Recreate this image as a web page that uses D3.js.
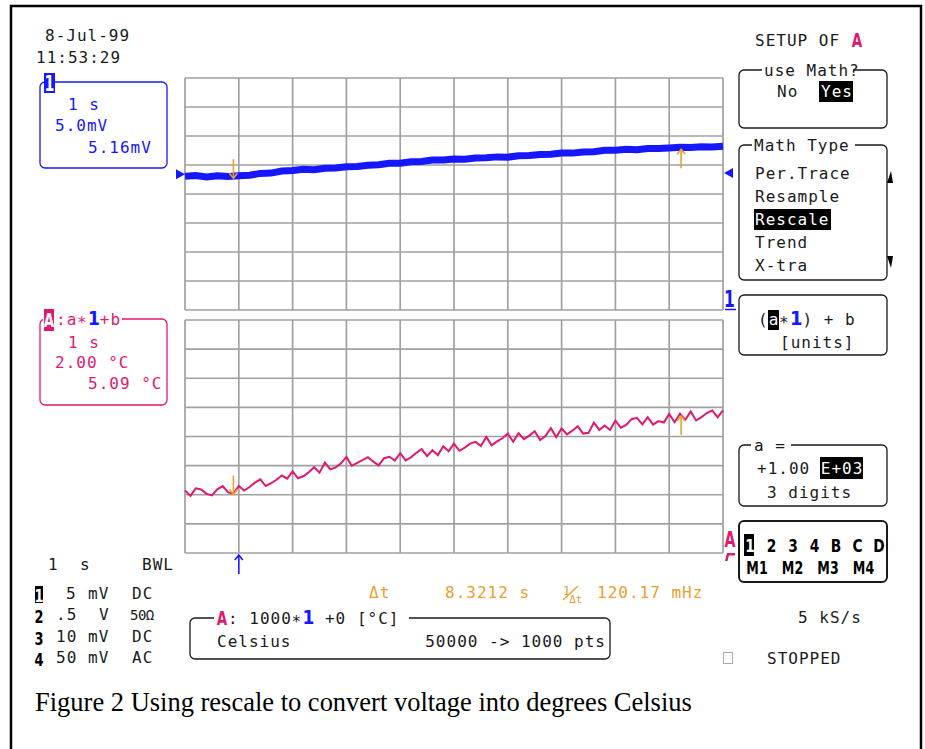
<!DOCTYPE html>
<html>
<head>
<meta charset="utf-8">
<script src="https://cdn.jsdelivr.net/npm/d3@7"></script>
<style>
body { margin: 0; background: #fff; }
svg text { font-family: "DejaVu Sans Mono", monospace; font-size: 16px; letter-spacing: 1px; }
svg .b { font-family: "Liberation Sans Narrow", "DejaVu Sans Condensed", sans-serif; font-weight: bold; letter-spacing: 0; }
svg text.cap { font-family: "Liberation Serif", "Times New Roman", serif; letter-spacing: 0; }
</style>
</head>
<body>
<svg width="925" height="749"></svg>
<script>
// ---- data ----
const timeDivs = d3.range(0, 11);          // 1 s/div, 10 divisions
const ch1Divs = d3.range(-20, 21, 5);       // 5 mV/div, 8 divisions
const mathDivs = d3.range(-8, 9, 2);        // 2 degC/div, 8 divisions

const ch1Step = 0.2; // s between samples
const ch1Values = [3.05, 3.20, 2.95, 3.15, 3.00, 3.15, 3.25, 3.55, 3.60, 3.95,
  4.05, 4.25, 4.20, 4.45, 4.50, 4.70, 4.75, 4.95, 5.05, 5.30,
  5.30, 5.55, 5.60, 5.85, 5.85, 6.05, 6.00, 6.20, 6.25, 6.40,
  6.35, 6.60, 6.65, 6.80, 6.85, 7.05, 7.05, 7.25, 7.30, 7.55,
  7.55, 7.70, 7.65, 7.85, 7.85, 7.95, 8.05, 8.00, 8.15, 8.10, 8.25];

const mathStep = 0.1;
const mathValues = [-3.70, -4.08, -3.56, -3.64, -3.94, -4.05, -3.63, -3.41, -3.84, -3.92,
  -3.40, -3.71, -3.47, -3.17, -2.94, -3.40, -3.21, -2.97, -2.68, -2.89,
  -2.40, -2.87, -2.73, -2.45, -2.11, -2.48, -1.79, -2.26, -2.12, -1.84,
  -1.40, -2.01, -1.81, -1.62, -1.42, -1.73, -1.98, -1.49, -1.39, -1.65,
  -1.15, -1.64, -1.43, -1.12, -0.86, -1.35, -0.94, -1.28, -0.67, -1.01,
  -0.50, -0.98, -0.76, -0.49, -0.37, -0.65, -0.03, -0.61, -0.34, -0.12,
  0.20, -0.36, 0.23, -0.18, 0.06, 0.36, -0.25, 0.03, 0.57, -0.04,
  0.55, 0.15, 0.40, 0.70, 0.20, 0.25, 0.95, 0.45, 0.75, 0.45,
  1.10, 0.60, 0.79, 1.19, 1.28, 0.83, 1.32, 0.82, 1.06, 0.96,
  1.55, 0.98, 1.56, 1.14, 1.72, 1.10, 1.33, 1.61, 1.79, 1.32, 1.80];

const cursorTimes = [0.9, 0.9 + 8.3212];
const triggerTime = 1;
const ch1Marker = 3.4, trigLevel = 3.6;

const mathTypes = ["Per.Trace", "Resample", "Rescale", "Trend", "X-tra"];
const chanRows = [["1", "5", "mV", "DC"], ["2", ".5", "V", "50Ω"], ["3", "10", "mV", "DC"], ["4", "50", "mV", "AC"]];
const chanKeys = ["1", "2", "3", "4", "B", "C", "D"];
const memKeys = ["M1", "M2", "M3", "M4"];
const caption = "Figure 2 Using rescale to convert voltage into degrees Celsius";

// ---- drawing ----
const svg = d3.select("svg");
const blue = "#1717ff", pink = "#e0196f", orange = "#e8a02e", gridc = "#a0a0a0", ink = "#1a1a1a";

const x = d3.scaleLinear().domain([0, 10]).range([185, 723]);
const yUp = d3.scaleLinear().domain([-20, 20]).range([310, 78]);
const yLo = d3.scaleLinear().domain([-8, 8]).range([553, 320]);

// outer frame
svg.append("rect").attr("x", 11).attr("y", 6).attr("width", 910).attr("height", 780)
  .attr("fill", "none").attr("stroke", "#000").attr("stroke-width", 2.5);

function grid(ys, yDivs) {
  const g = svg.append("g").attr("stroke", gridc).attr("stroke-width", 1.7);
  g.selectAll("line.v").data(timeDivs).enter().append("line")
    .attr("x1", d => x(d)).attr("x2", d => x(d)).attr("y1", ys.range()[1]).attr("y2", ys.range()[0]);
  g.selectAll("line.h").data(yDivs).enter().append("line")
    .attr("x1", x(0)).attr("x2", x(10)).attr("y1", d => ys(d)).attr("y2", d => ys(d));
}
grid(yUp, ch1Divs);
grid(yLo, mathDivs);

// traces
svg.append("path").datum(ch1Values)
  .attr("d", d3.line().x((d, i) => x(i * ch1Step)).y(d => yUp(d)))
  .attr("fill", "none").attr("stroke", blue).attr("stroke-width", 7);
svg.append("path").datum(mathValues)
  .attr("d", d3.line().x((d, i) => x(i * mathStep)).y(d => yLo(d)))
  .attr("fill", "none").attr("stroke", pink).attr("stroke-width", 2);

function valueAt(vals, step, t) {
  const i = t / step, i0 = Math.floor(i), f = i - i0;
  return vals[i0] * (1 - f) + vals[Math.min(i0 + 1, vals.length - 1)] * f;
}
function arrow(xp, tip, dir, color) { // dir 1 = pointing down
  const tail = tip - dir * 19;
  svg.append("line").attr("x1", xp).attr("x2", xp).attr("y1", tail).attr("y2", tip)
    .attr("stroke", color).attr("stroke-width", 1.6);
  svg.append("path").attr("d", `M${xp - 4},${tip - dir * 5}L${xp},${tip}L${xp + 4},${tip - dir * 5}`)
    .attr("fill", "none").attr("stroke", color).attr("stroke-width", 1.6);
}
cursorTimes.forEach((t, k) => {
  const dir = k === 0 ? 1 : -1;
  arrow(x(t), yUp(valueAt(ch1Values, ch1Step, t)) + 2, dir, orange);
  arrow(x(t), yLo(valueAt(mathValues, mathStep, t)) + 1, dir, orange);
});
arrow(x(triggerTime), 555, -1, blue);

// level markers
svg.append("polygon").attr("points", `176,${yUp(ch1Marker) - 5} 176,${yUp(ch1Marker) + 5} 185,${yUp(ch1Marker)}`).attr("fill", blue);
svg.append("polygon").attr("points", `733,${yUp(trigLevel) - 5} 733,${yUp(trigLevel) + 5} 724,${yUp(trigLevel)}`).attr("fill", blue);

function t(xp, yp, s, fill = ink, cls = null) {
  const e = svg.append("text").attr("x", xp).attr("y", yp).attr("fill", fill).text(s);
  if (cls) e.attr("class", cls);
  return e;
}
// narrow bold glyph (scope's condensed font)
function nb(xp, yp, s, fill, size, sx = 0.75) {
  return svg.append("text").attr("class", "b").attr("transform", `translate(${xp},${yp}) scale(${sx},1)`)
    .attr("text-anchor", "middle").attr("fill", fill).style("font-size", size + "px").text(s);
}
function hl(xp, yp, w, h, c = "#000") {
  svg.append("rect").attr("x", xp).attr("y", yp).attr("width", w).attr("height", h).attr("fill", c);
}
function box(x0, y0, x1, y1, color = ink, sw = 1.3, gap = null) {
  svg.append("rect").attr("x", x0).attr("y", y0).attr("width", x1 - x0).attr("height", y1 - y0)
    .attr("rx", 5).attr("fill", "none").attr("stroke", color).attr("stroke-width", sw);
  if (gap) svg.append("rect").attr("x", gap[0]).attr("y", y0 - 3).attr("width", gap[1] - gap[0]).attr("height", 6).attr("fill", "#fff");
}

nb(729.5, 307, "1", blue, 23);
svg.append("line").attr("x1", 725).attr("x2", 736).attr("y1", 309.5).attr("y2", 309.5).attr("stroke", blue).attr("stroke-width", 1.5);
nb(730, 547, "A", pink, 21);
svg.append("polygon").attr("points", "725,561 727,553 735,553 735,555.5 729,555.5 727.5,561").attr("fill", pink);

// top-left
t(45, 41, "8-Jul-99");
t(36, 63, "11:53:29");

// channel 1 box
box(40, 82, 167, 168, blue, 1.3);
hl(44, 73, 11, 20, blue);
nb(49.5, 91, "1", "#fff", 21);
t(68, 110, "1 s", blue);
t(55, 131, "5.0mV", blue);
t(88, 153, "5.16mV", blue);

// math A box
box(40, 319, 167, 405, pink, 1.3, [43, 122]);
hl(44, 309, 10, 22, pink);
nb(49, 327, "A", "#fff", 20);
const hA = t(56, 325, ":a∗", pink);
hA.append("tspan").attr("class", "b").attr("fill", blue).style("font-size", "19px").text("1");
hA.append("tspan").text("+b");
t(68, 348, "1 s", pink);
t(55, 368, "2.00 °C", pink);
t(88, 389, "5.09 °C", pink);

// right menus
t(755, 46, "SETUP OF");
nb(857, 47, "A", pink, 20);

box(739, 70, 887, 128, ink, 1.3, [762, 853]);
t(764, 76, "use Math?");
t(777, 97, "No");
hl(819, 81, 34, 21);
t(821, 97, "Yes", "#fff");

box(739, 145, 887, 280, ink, 1.3, [752, 855]);
t(754, 151, "Math Type");
mathTypes.forEach((m, i) => {
  const yb = 179 + i * 23;
  if (m === "Rescale") hl(754, yb - 16, 77, 21);
  t(755, yb, m, m === "Rescale" ? "#fff" : ink);
});
svg.append("polygon").attr("points", "887,183 891,171 893,183").attr("fill", "#000");
svg.append("polygon").attr("points", "887,256 893,256 891,268").attr("fill", "#000");

box(739, 295, 887, 355);
hl(768, 310, 11, 20);
const fm = t(758, 325, "(");
fm.append("tspan").attr("fill", "#fff").text("a");
fm.append("tspan").text("∗");
fm.append("tspan").attr("class", "b").attr("fill", blue).style("font-size", "20px").text("1");
fm.append("tspan").text(") + b");
t(780, 348, "[units]");

box(739, 445, 887, 506, ink, 1.3, [751, 791]);
t(754, 451, "a =");
hl(820, 457, 43, 22);
const av = t(757, 474, "+1.00 ");
av.append("tspan").attr("fill", "#fff").text("E+03");
t(767, 498, "3 digits");

box(739, 521, 887, 582, ink, 2);
hl(744, 534, 10, 22);
chanKeys.forEach((k, i) => nb(750 + i * 21.5, 552, k, i === 0 ? "#fff" : "#000", 18, 0.85));
memKeys.forEach((k, i) => nb(757 + i * 35.5, 574, k, "#000", 18, 0.78));

// bottom-left channel settings
t(48, 570, "1");
t(80, 570, "s");
t(142, 570, "BWL");
chanRows.forEach((r, i) => {
  const yb = 599 + i * 21.3;
  if (i === 0) hl(35, yb - 13, 8, 17);
  nb(39, yb + 3, r[0], i === 0 ? "#fff" : "#000", 18, 0.8);
  t(r[1].length === 1 ? 66 : 56, yb, r[1]);
  t(r[2] === "V" ? 99 : 88, yb, r[2]);
  if (r[3] === "50Ω") t(130, yb, r[3], ink).style("font-size", "14px").style("letter-spacing", "-0.5px");
  else t(132, yb, r[3]);
});

// cursor readout
t(369, 598, "Δt", orange);
t(445, 598, "8.3212 s", orange);
const inv = t(563, 595, "1", orange).style("font-size", "12px").style("letter-spacing", "0");
inv.append("tspan").attr("dx", -1).attr("dy", 8).style("font-size", "11px").text("Δt");
svg.append("line").attr("x1", 563).attr("x2", 578).attr("y1", 600).attr("y2", 586).attr("stroke", orange).attr("stroke-width", 1.3);
t(597, 598, "120.17 mHz", orange);

// math definition box
box(190, 618, 610, 659, ink, 1.3, [214, 409]);
nb(222, 625, "A", pink, 20);
const md2 = t(228, 624, ": 1000∗");
md2.append("tspan").attr("class", "b").attr("fill", blue).style("font-size", "19px").text("1");
md2.append("tspan").text(" +0 [°C]");
t(217, 647, "Celsius");
t(606, 647, "50000 -> 1000 pts").attr("text-anchor", "end");

t(798, 623, "5 kS/s");
svg.append("rect").attr("x", 723.5).attr("y", 652.5).attr("width", 9).attr("height", 11)
  .attr("fill", "none").attr("stroke", "#aaa").attr("stroke-width", 1);
t(767, 664, "STOPPED");

// caption
const cap = svg.append("text").attr("class", "cap").attr("x", 35).attr("y", 711)
  .attr("fill", "#000").style("font-size", "24px").text(caption);
const cw = cap.node().getComputedTextLength();
cap.style("font-size", (24 * 657 / cw) + "px");
</script>
</body>
</html>
